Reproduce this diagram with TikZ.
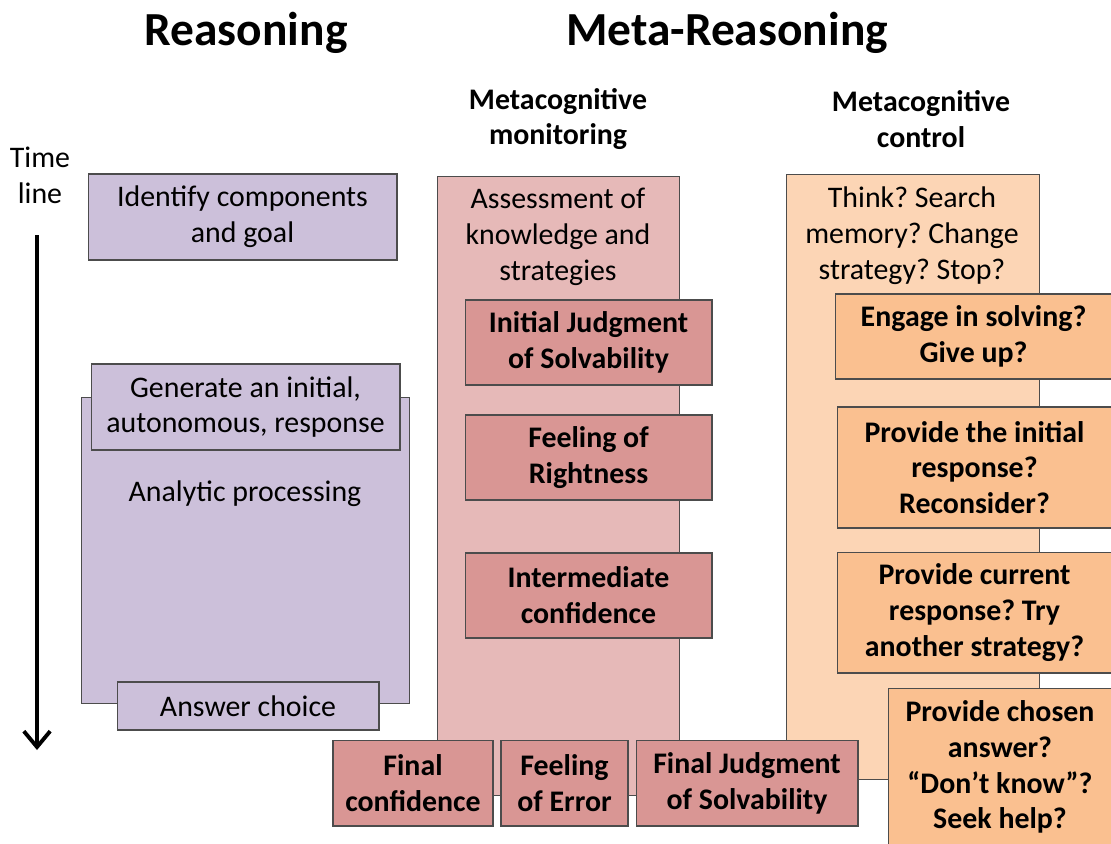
\documentclass[tikz,border=0pt]{standalone}
\usepackage{fontspec}
\setmainfont{Carlito}
\usepackage{xcolor}
\usetikzlibrary{arrows.meta}

\definecolor{lav}{HTML}{CCC0DA}
\definecolor{pinkbg}{HTML}{E6B9B8}
\definecolor{pinkdk}{HTML}{D99694}
\definecolor{orbg}{HTML}{FCD5B5}
\definecolor{ordk}{HTML}{FAC090}
\newcommand{\bodyfont}{\fontsize{17}{20.4}\selectfont}
\frenchspacing

\begin{document}
\begin{tikzpicture}[x=0.02cm, y=-0.02cm,
  box/.style={draw=black!70, line width=0.6pt, align=center, inner sep=0pt, font=\bodyfont},
  col/.style={box, anchor=north west},
  plain/.style={align=center, font=\bodyfont},
  mon/.style={box, fill=pinkdk, font=\bodyfont\bfseries, minimum height=1.7cm},
  ctl/.style={box, fill=ordk, font=\bodyfont\bfseries},
  head/.style={font=\fontsize{27}{32}\selectfont\bfseries},
  sub/.style={align=center, font=\bodyfont\bfseries},
  arrow/.style={-{Straight Barb[length=9pt,width=15pt]}, line width=2.2pt}
]
\useasboundingbox (0,0) rectangle (1111,843);

% Headings
\node[head] (reas) at (246,33) {Reasoning};
\node[head] (meta) at (727,33) {Meta-Reasoning};
\node[sub] (monHead) at (558,119) {Metacognitive\\monitoring};
\node[sub] (ctlHead) at (921,119) {Metacognitive\\control};

% Time line
\node[plain] (time) at (40,175) {Time\\line};
\coordinate (tTop) at (37,235);
\coordinate (tBot) at (37,750);
\draw[arrow] (tTop) -- (tBot);

% Reasoning column
\node[box, fill=lav, minimum width=6.18cm, minimum height=1.72cm] (ident) at (242.5,217) {Identify components\\and goal};
\node[col, fill=lav, minimum width=6.56cm, minimum height=6.12cm] (anal) at (81,397) {};
\node[box, fill=lav, minimum width=6.18cm, minimum height=1.72cm] (gen) at (245.5,407) {Generate an initial,\\autonomous, response};
\node[plain] (analTxt) at (245,494) {Analytic processing};
\node[box, fill=lav, minimum width=5.24cm, minimum height=0.96cm] (ans) at (248,706) {Answer choice};

% Monitoring column
\node[col, fill=pinkbg, minimum width=4.84cm, minimum height=12.38cm] (monCol) at (437,176) {};
\node[plain] (assess) at (558,237) {Assessment of\\knowledge and\\strategies};
\node[mon, minimum width=4.94cm] (ijs) at (588.5,342.5) {Initial Judgment\\of Solvability};
\node[mon, minimum width=4.94cm] (for) at (588.5,457.5) {Feeling of\\Rightness};
\node[mon, minimum width=4.94cm] (ic) at (588.5,595.5) {Intermediate\\confidence};

% Control column
\node[col, fill=orbg, minimum width=5.06cm, minimum height=12.1cm] (ctlCol) at (786,174) {};
\node[plain] (think) at (912,236) {Think? Search\\memory? Change\\strategy? Stop?};
\node[ctl, minimum width=5.54cm, minimum height=1.7cm] (engage) at (973.5,336.5) {Engage in solving?\\Give up?};
\node[ctl, minimum width=5.5cm, minimum height=2.42cm] (provInit) at (974.5,467.5) {Provide the initial\\response?\\Reconsider?};
\node[ctl, minimum width=5.5cm, minimum height=2.42cm] (provCur) at (974.5,612.5) {Provide current\\response? Try\\another strategy?};
\node[ctl, minimum width=4.48cm, minimum height=3.16cm] (provChosen) at (1000,767) {Provide chosen\\answer?\\“Don’t know”?\\Seek help?};

% Final judgments
\node[mon, minimum width=3.2cm, minimum height=1.72cm] (fconf) at (413,783) {Final\\confidence};
\node[mon, minimum width=2.54cm, minimum height=1.72cm] (foe) at (564.5,783) {Feeling\\of Error};
\node[mon, minimum width=4.44cm, minimum height=1.72cm] (fjs) at (747,783) {Final Judgment\\of Solvability};
\end{tikzpicture}
\end{document}
